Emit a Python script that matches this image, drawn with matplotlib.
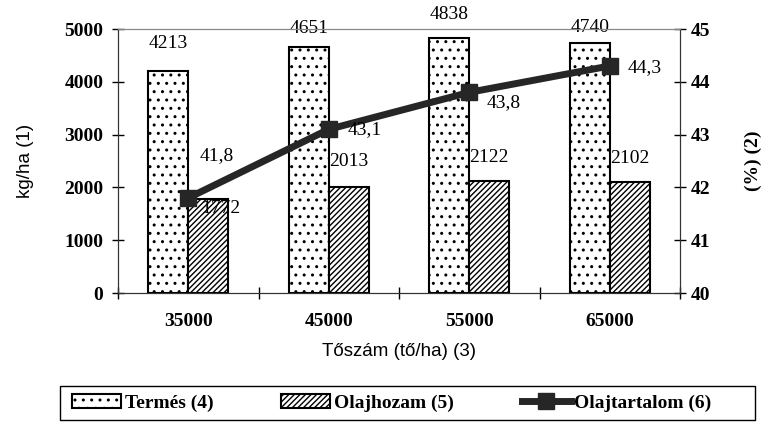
import numpy as np
import matplotlib.pyplot as plt
import matplotlib as mpl
from matplotlib.patches import Rectangle

# adatok
kategoriak = ['35000', '45000', '55000', '65000']
termes = [4213, 4651, 4838, 4740]
olajhozam = [1772, 2013, 2122, 2102]
olajtartalom = [41.8, 43.1, 43.8, 44.3]
olaj_cimke = ['41,8', '43,1', '43,8', '44,3']

mpl.rcParams['hatch.linewidth'] = 1.0
serif = 'Liberation Serif'
sans = 'Liberation Sans'
W, H = 770, 424

fig = plt.figure(figsize=(7.7, 4.24), dpi=100)
ax = fig.add_axes([118/W, 1 - 293/H, (680-118)/W, (293-29)/H])
ax2 = ax.twinx()

x = np.arange(len(kategoriak))
w = 0.285
b1 = ax.bar(x - w/2, termes, w, color='white', edgecolor='black', hatch='..', linewidth=1.5, label='Termés (4)')
b2 = ax.bar(x + w/2, olajhozam, w, color='white', edgecolor='black', hatch='//////', linewidth=1.5, label='Olajhozam (5)')
ln, = ax2.plot(x, olajtartalom, color='#262626', lw=5, marker='s', ms=11, label='Olajtartalom (6)')

# cimkek
off1 = [520, 350, 430, 280]
for xi, v, o in zip(x, termes, off1):
    ax.text(xi - w/2, v + o, str(v), ha='center', va='center', fontsize=14, family=serif)
off2 = [-180, 470, 450, 450]
for xi, v, o in zip(x, olajhozam, off2):
    ax.text(xi + w/2 + (0.09 if o < 0 else 0), v + o, str(v), ha='center', va='center', fontsize=14, family=serif)
off3 = [(28, 42), (36, 0), (34, -10), (35, -2)]
for xi, v, s, o in zip(x, olajtartalom, olaj_cimke, off3):
    ax2.annotate(s, (xi, v), xytext=o, textcoords='offset pixels', ha='center', va='center',
                 fontsize=14, family=serif)

ax.set_xlim(-0.5, 3.5)
ax.set_ylim(0, 5000)
ax2.set_ylim(40, 45)
ax.set_yticks(range(0, 5001, 1000))
ax2.set_yticks(range(40, 46))
ax.set_xticks(x)
ax.set_xticklabels(kategoriak)
ax.set_xticks(np.arange(-0.5, 3.6, 1), minor=True)
ax.tick_params(axis='x', which='major', length=0, pad=14.5)
ax.tick_params(axis='x', which='minor', direction='inout', length=9, width=1)
ax.tick_params(axis='y', direction='inout', length=9, width=1, pad=6)
ax2.tick_params(axis='y', direction='inout', length=9, width=1, pad=3)
for a in (ax, ax2):
    for t in a.get_xticklabels() + a.get_yticklabels():
        t.set_fontfamily(serif)
        t.set_fontweight('bold')
        t.set_fontsize(14)
for a in (ax, ax2):
    a.spines['top'].set_color('#888888')
    a.spines['left'].set_color('#333333')
    a.spines['right'].set_color('#333333')
    a.spines['bottom'].set_color('#333333')

ax.set_ylabel('kg/ha (1)', family=sans, fontsize=13.5, labelpad=22)
ax.set_xlabel('Tőszám (tő/ha) (3)', family=sans, fontsize=13.5, labelpad=9)
ax2.set_ylabel('(%) (2)', family=serif, fontweight='bold', fontsize=14, labelpad=25)

# jelmagyarazat
fig.patches.append(Rectangle((60/W, 1 - 420/H), (755-60)/W, 34/H, transform=fig.transFigure,
                             fill=False, edgecolor='black', lw=1.0))
leg = fig.legend([b1, b2, ln], ['Termés (4)', 'Olajhozam (5)', 'Olajtartalom (6)'],
                 loc='center', bbox_to_anchor=(392/W, 1 - 403/H), ncol=3, frameon=False,
                 handlelength=2.5, handletextpad=0.2, columnspacing=3.5,
                 prop={'family': serif, 'weight': 'bold', 'size': 14})

plt.savefig('out.png', dpi=100)
